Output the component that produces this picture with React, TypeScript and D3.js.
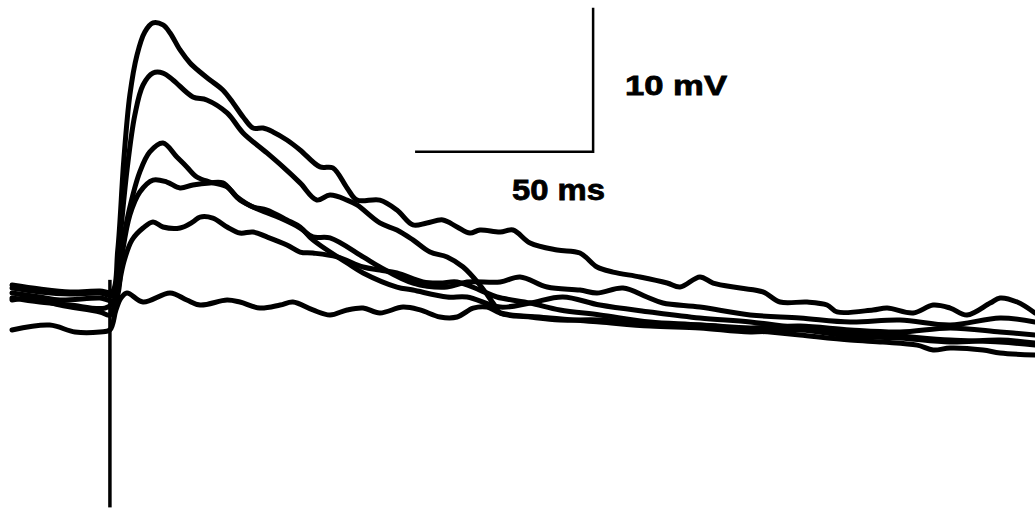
import React from 'react'
import * as d3 from 'd3'

// time in ms (stimulus at 0), membrane potential in mV relative to rest
const traceA: [number, number][] = [
  [-27.5, 1.04], [-19.7, 0.76], [-11.2, 0.56], [-2.8, 0.63], [0.6, 0.56], [2.2, 3.47], [3.9, 9.72],
  [5.6, 14.24], [7.6, 17.01], [9.8, 18.61], [12.1, 19.24], [14.9, 19.1], [16.9, 18.54], [19.7, 17.36],
  [22.5, 16.46], [25.3, 15.83], [28.1, 15.28], [31.7, 14.58], [34.6, 13.68], [37.4, 12.71], [40.2, 11.94],
  [43.0, 11.94], [45.8, 11.67], [49.7, 11.11], [53.4, 10.42], [59.0, 9.24], [62.6, 9.17], [66.6, 7.78],
  [69.4, 6.94], [75.8, 6.94], [80.6, 6.25], [85.1, 5.21], [89.0, 5.35], [93.5, 5.56], [97.5, 5.07],
  [101.1, 4.65], [103.9, 4.86], [109.6, 4.72], [113.2, 4.86], [118.0, 3.96], [125.6, 3.47], [132.0, 3.26],
  [136.8, 2.29], [141.3, 1.94], [148.9, 1.6], [156.5, 1.18], [160.1, 0.9], [165.7, 1.6], [169.4, 1.18],
  [177.0, 0.83], [183.4, 0.56], [188.2, -0.14], [195.8, -0.14], [201.4, -0.35], [204.2, -0.83],
  [214.3, -0.69], [218.3, -0.56], [225.6, -0.9], [231.2, -0.35], [236.0, -0.56], [240.7, -1.04],
  [247.2, -0.21], [250.0, 0.14], [254.8, -0.14], [259.8, -0.9],
]

const traceB: [number, number][] = [
  [-27.5, 0.83], [-19.7, 0.56], [-11.2, 0.42], [-2.8, 0.49], [1.1, 0.35], [2.8, 4.17], [4.8, 9.03],
  [7.0, 12.85], [9.3, 14.93], [12.1, 15.76], [14.9, 15.76], [17.7, 15.28], [23.3, 14.1], [27.2, 13.89],
  [32.9, 12.99], [37.4, 11.6], [44.1, 10.21], [48.6, 9.24], [53.4, 8.13], [58.1, 6.94], [61.8, 7.29],
  [66.6, 6.94], [69.4, 6.6], [75.8, 5.35], [80.6, 4.86], [85.1, 4.17], [89.9, 3.33], [94.7, 2.99],
  [99.2, 2.29], [103.9, 1.04], [107.6, -0.21], [109.6, -0.9], [118.0, -1.18], [126.4, -1.39],
  [137.6, -1.39], [151.7, -1.74], [165.7, -1.74], [179.8, -1.94], [193.8, -1.81], [207.9, -2.08],
  [221.9, -2.22], [236.0, -1.94], [250.0, -2.22], [259.8, -2.43],
]

const traceC: [number, number][] = [
  [-27.5, 0.49], [-19.7, 0.21], [-14.0, 0], [-2.8, 0.14], [1.1, 0], [2.8, 2.78], [5.1, 5.9], [8.4, 8.89],
  [11.2, 10.28], [14.9, 10.9], [18.8, 9.93], [21.6, 9.24], [24.4, 8.54], [28.1, 8.19], [32.9, 7.85],
  [36.5, 6.94], [42.1, 6.25], [47.8, 5.69], [53.4, 5.0], [57.0, 4.38], [61.8, 4.31], [71.1, 2.99],
  [75.8, 2.29], [85.1, 1.18], [94.7, 0.9], [100.3, 1.25], [109.6, 1.25], [115.2, 1.6], [122.8, 0.9],
  [132.0, 0.69], [136.8, 0.49], [144.1, 0.83], [150.8, 0.21], [155.3, -0.21], [165.7, -0.49],
  [179.8, -1.04], [193.8, -1.25], [207.9, -1.53], [221.9, -1.39], [236.0, -1.74], [250.0, -1.25],
  [259.8, -1.53],
]

const traceD: [number, number][] = [
  [-27.5, 0.14], [-19.7, -0.14], [-11.2, -0.35], [-1.4, -0.56], [1.7, 0], [3.4, 3.13], [5.6, 5.9],
  [8.4, 7.5], [12.1, 8.33], [16.0, 8.19], [19.7, 7.78], [23.3, 7.99], [28.1, 8.13], [31.7, 8.13],
  [35.7, 7.15], [40.2, 6.46], [44.1, 6.25], [49.7, 5.56], [53.4, 5.07], [57.0, 4.17], [66.6, 2.57],
  [71.1, 1.88], [80.6, 0.9], [85.1, 0.69], [94.7, 0.21], [100.3, 0.21], [109.6, -0.49], [118.0, -0.21],
  [127.2, 0.21], [137.6, -0.35], [151.7, -0.83], [165.7, -1.25], [179.8, -1.53], [193.8, -1.94],
  [207.9, -2.22], [221.9, -2.5], [236.0, -2.78], [250.0, -2.92], [259.8, -3.13],
]

const traceE: [number, number][] = [
  [-27.5, 0], [-22.5, 0.14], [-14.0, -0.35], [-2.8, -0.83], [0, -1.04], [2.2, 0.69], [3.9, 2.64],
  [6.2, 4.17], [9.3, 5.0], [12.1, 5.42], [14.9, 5.07], [19.7, 5.0], [23.3, 5.42], [25.3, 5.76],
  [28.9, 5.69], [32.9, 5.07], [36.5, 4.65], [40.2, 4.72], [44.1, 4.38], [49.7, 3.82], [53.4, 3.33],
  [57.0, 3.26], [63.8, 2.99], [71.1, 2.29], [75.8, 2.08], [80.6, 1.88], [87.9, 1.25], [92.7, 1.18],
  [97.5, 1.25], [103.9, 0.69], [108.7, 0.21], [118.0, -0.21], [126.4, -0.69], [137.6, -1.04],
  [151.7, -1.53], [165.7, -1.74], [179.8, -2.08], [193.8, -2.43], [207.9, -2.78], [217.1, -2.92],
  [226.7, -3.13], [231.2, -3.47], [236.0, -3.33], [245.2, -3.47], [250.0, -3.68], [259.8, -3.82],
]

const traceF: [number, number][] = [
  [-27.5, -2.08], [-16.9, -1.74], [-9.8, -2.22], [-2.8, -2.22], [0, -2.08], [1.7, -0.69], [3.1, 0.14],
  [4.8, 0.49], [9.3, -0.14], [16.9, 0.49], [21.6, 0], [25.3, -0.35], [32.9, 0], [36.5, -0.14],
  [42.1, -0.56], [47.8, -0.35], [51.4, -0.14], [57.0, -0.69], [61.8, -1.04], [66.6, -0.69],
  [71.1, -0.56], [75.8, -0.9], [82.3, -0.49], [87.1, -0.69], [92.7, -1.18], [97.5, -1.18],
  [102.0, -0.56], [105.9, -0.49], [109.6, -0.9], [123.6, -1.25], [137.6, -1.53], [151.7, -1.81],
  [165.7, -1.94], [179.8, -2.22], [193.8, -2.08], [207.9, -2.5], [221.9, -2.64], [236.0, -2.92],
  [250.0, -2.78], [259.8, -2.99],
]

const traces = [traceA, traceB, traceC, traceD, traceE, traceF]

// stimulus artifact (ms, mV range)
const stimTime = 0
const stimRange = [1.4, -14.4]

// calibration bars: 50 ms x 10 mV
const barTime = [85.7, 135.7]
const barVolt = [10.3, 20.3]
const barLabels = ['10 mV', '50 ms']

const width = 1035
const height = 511

const App = () => {
  const x = d3.scaleLinear().domain([-27.5, 259.8]).range([12, 1035])
  const y = d3.scaleLinear().domain([-14.65, 20.83]).range([511, 0])

  const line = d3.line<[number, number]>()
    .x(d => x(d[0]))
    .y(d => y(d[1]))
    .curve(d3.curveCatmullRom.alpha(0.5))

  return (
    <svg width={width} height={height} style={{ position: 'absolute', left: 0, top: 0, background: '#fff' }}>
      <line x1={x(stimTime)} x2={x(stimTime)} y1={y(stimRange[0])} y2={y(stimRange[1])}
        stroke="#000" strokeWidth={3.5} />
      {traces.map((t, i) => (
        <path key={i} d={line(t) || ''} fill="none" stroke="#000" strokeWidth={5}
          strokeLinejoin="round" strokeLinecap="round" />
      ))}
      <path
        d={`M${x(barTime[0])},${y(barVolt[0])}H${x(barTime[1])}V${y(barVolt[1])}`}
        fill="none" stroke="#000" strokeWidth={2.5} />
      <text x={625} y={95} fontFamily="Liberation Sans, Arial, sans-serif" fontWeight="bold"
        fontSize={28} textLength={102} lengthAdjust="spacingAndGlyphs" fill="#000"
        stroke="#000" strokeWidth={0.8}>{barLabels[0]}</text>
      <text x={512} y={200} fontFamily="Liberation Sans, Arial, sans-serif" fontWeight="bold"
        fontSize={30} textLength={93} lengthAdjust="spacingAndGlyphs" fill="#000"
        stroke="#000" strokeWidth={0.8}>{barLabels[1]}</text>
    </svg>
  )
}

export default App
